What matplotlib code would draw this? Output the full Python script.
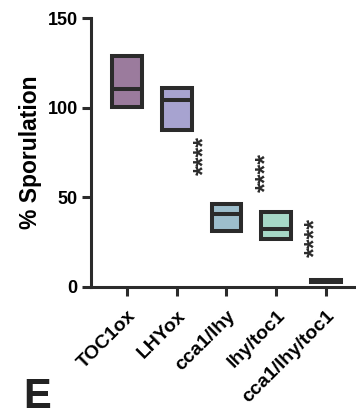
import matplotlib
matplotlib.use("Agg")
import matplotlib.pyplot as plt

plt.rcParams['font.family'] = ['Liberation Sans', 'DejaVu Sans']
plt.rcParams['font.weight'] = 'bold'

# floating bars: min / max with a line at the mean
genotypes = ["TOC1ox", "LHYox", "cca1/lhy", "lhy/toc1", "cca1/lhy/toc1"]
lows = [100.5, 87.8, 31.0, 27.0, 2.8]
highs = [129.0, 111.2, 46.5, 42.0, 3.8]
means = [110.5, 104.2, 40.5, 32.2, 3.3]
colors = ["#9b7b9d", "#a7a3d0", "#9dbecc", "#a6d8c7", "#a6d8c7"]

# significance marks (x position, y centre)
star_x = [1.56, 2.8, 3.78]
star_y = [73.5, 64.0, 27.5]
star_text = ["****", "****", "****"]

edge = "#2b2b2b"

fig = plt.figure(figsize=(3.56, 4.12), dpi=100)
ax = fig.add_axes([0.2556, 0.3034, 0.7444, 0.6529])

x = list(range(len(genotypes)))
heights = [h - l for h, l in zip(highs, lows)]
ax.bar(x, heights, bottom=lows, width=0.6, color=colors,
       edgecolor=edge, linewidth=2.9, zorder=3)
for xi, m in zip(x, means):
    ax.plot([xi - 0.3, xi + 0.3], [m, m], color=edge, lw=2.9,
            solid_capstyle='butt', zorder=4)

for sx, sy, st in zip(star_x, star_y, star_text):
    ax.text(sx, sy, st, rotation=90, ha='center', va='center',
            fontsize=18, fontweight='bold', color=edge)

ax.set_xlim(-0.72, 4.6)
ax.set_ylim(0, 150)
ax.set_yticks([0, 50, 100, 150])
ax.set_xticks(x)
ax.set_xticklabels(genotypes, rotation=45, ha='right', va='top',
                   rotation_mode='anchor', fontsize=14, fontweight='bold')
ax.set_ylabel("% Sporulation", fontsize=16.5, fontweight='bold', labelpad=4)

for lab in ax.get_yticklabels():
    lab.set_fontsize(13)
    lab.set_fontweight('bold')

ax.spines['top'].set_visible(False)
ax.spines['right'].set_visible(False)
ax.spines['left'].set_linewidth(2.2)
ax.spines['bottom'].set_linewidth(2.2)
ax.spines['left'].set_color(edge)
ax.spines['bottom'].set_color(edge)
ax.tick_params(axis='y', width=2.2, length=6.5, color=edge, pad=3)
ax.tick_params(axis='x', width=2.2, length=6.5, color=edge, pad=8)

fig.text(0.065, 0.085, "E", fontsize=30, fontweight='bold', va='top',
         ha='left', color='#222222')

fig.savefig("out.png", dpi=100)
